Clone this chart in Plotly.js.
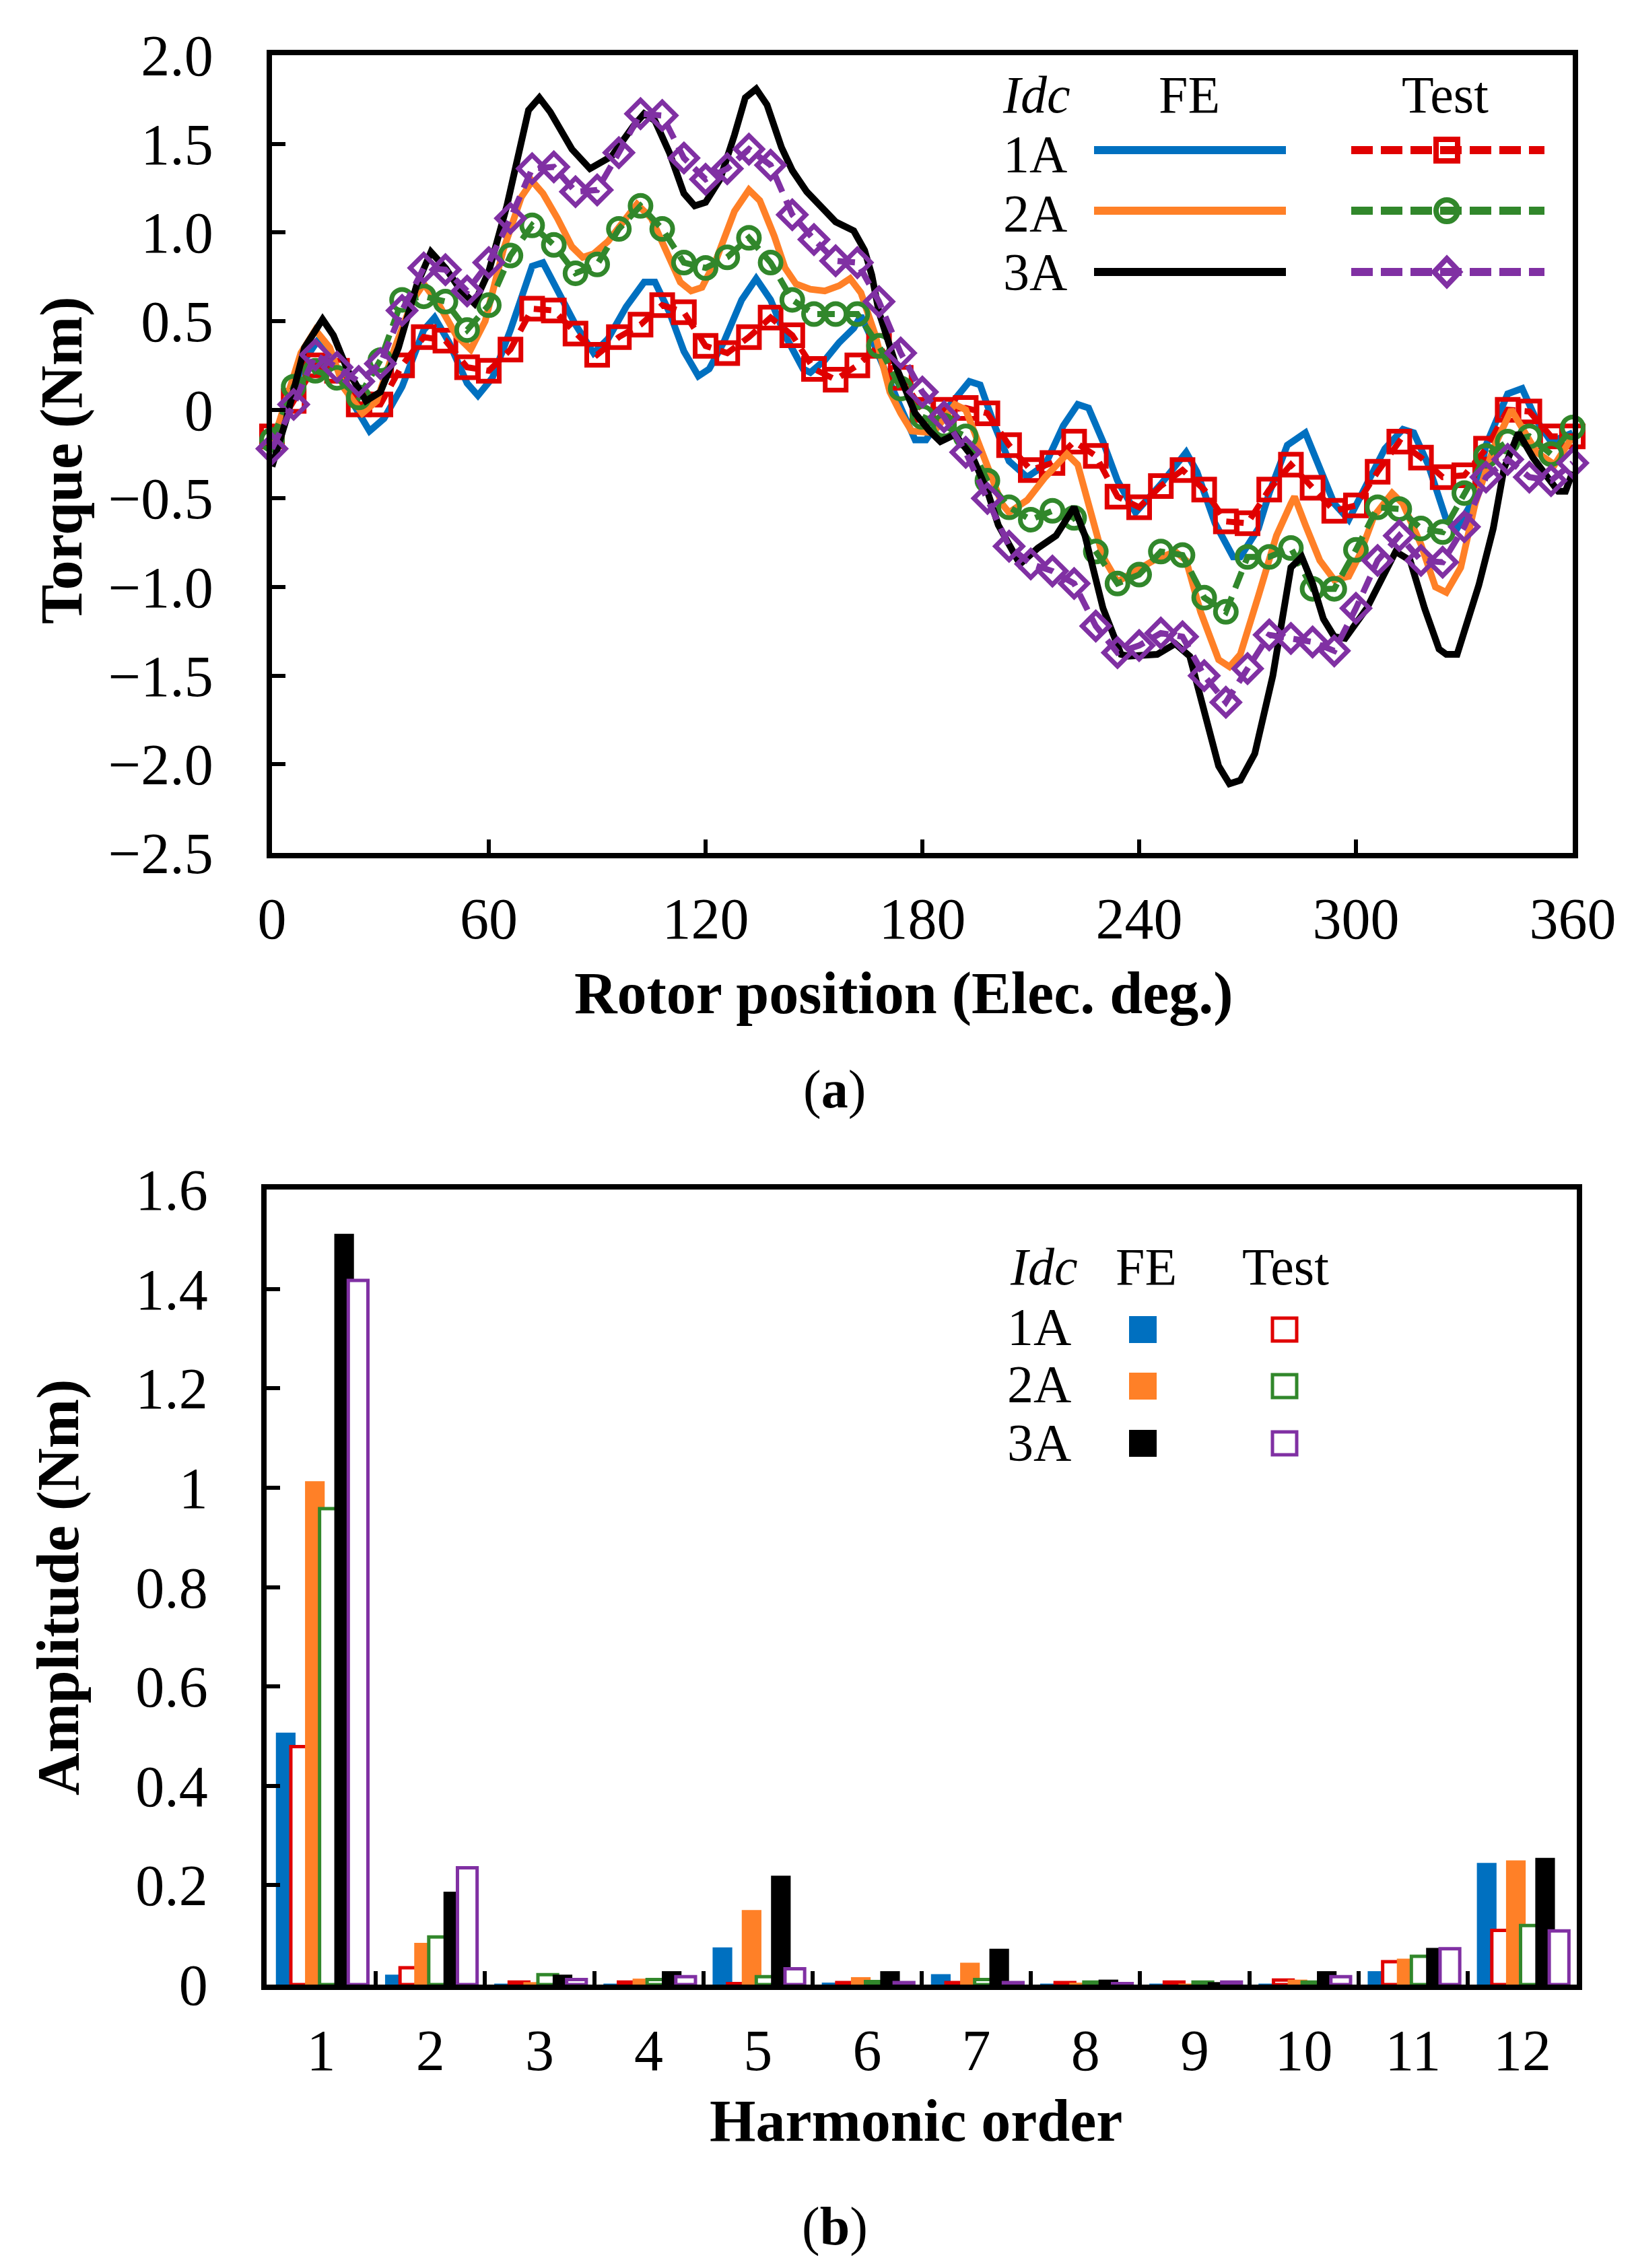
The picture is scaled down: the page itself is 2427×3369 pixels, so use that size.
<!DOCTYPE html>
<html>
<head>
<meta charset="utf-8">
<script src="https://cdn.plot.ly/plotly-3.0.1.min.js"></script>
<style>
  html, body { margin: 0; padding: 0; background: #fff; }
  #chart { width: 2427px; height: 3369px; }
</style>
</head>
<body>
<div id="chart"></div>
<script>
'use strict';

// ---- (a) torque waveforms ----
// FE curves at their corners
const fe1Deg = [0,4,9,13,17,22,27,31,36,42,45,49,54,57,61,66,72,75,79,84,89,93,98,103,106,110,114,118,121,125,130,134,138,142,147,149,153,157,161,163,166,170,173,178,181,187,193,196,200,204,209,214,219,223,226,230,234,239,246,253,256,261,266,268,273,276,281,286,290,294,298,303,308,313,316,320,325,328,333,336,342,346,350,354,357,360];
const fe1Torque = [-0.22,0.0,0.28,0.40,0.28,0.05,-0.12,-0.05,0.13,0.45,0.52,0.38,0.15,0.08,0.18,0.45,0.81,0.83,0.68,0.48,0.32,0.40,0.58,0.72,0.72,0.55,0.33,0.19,0.23,0.38,0.62,0.74,0.62,0.42,0.23,0.21,0.28,0.38,0.46,0.53,0.40,0.20,0.06,-0.17,-0.17,0.01,0.16,0.14,-0.09,-0.29,-0.38,-0.31,-0.09,0.03,0.01,-0.18,-0.40,-0.58,-0.42,-0.24,-0.35,-0.64,-0.83,-0.83,-0.67,-0.47,-0.20,-0.13,-0.33,-0.53,-0.62,-0.42,-0.22,-0.11,-0.13,-0.31,-0.62,-0.67,-0.49,-0.20,0.09,0.12,-0.06,-0.18,-0.15,-0.13];

const fe2Deg = [0,4,8,12,16,20,25,29,34,39,42,46,51,55,59,64,69,72,75,79,83,86,89,93,97,101,105,109,113,116,119,123,128,132,135,139,142,145,149,153,157,160,163,167,171,174,177,183,189,192,197,202,204,209,214,220,223,227,230,234,238,244,250,253,257,262,265,268,273,278,282,283,286,290,294,298,301,305,310,313,318,322,325,329,333,338,343,346,350,355,360];
const fe2Torque = [-0.20,0.05,0.32,0.45,0.35,0.12,-0.02,0.05,0.35,0.62,0.71,0.60,0.42,0.34,0.50,0.90,1.20,1.29,1.22,1.08,0.92,0.86,0.88,0.95,1.06,1.16,1.08,0.90,0.72,0.67,0.69,0.85,1.12,1.24,1.18,0.98,0.80,0.71,0.68,0.67,0.70,0.74,0.66,0.42,0.10,-0.02,-0.12,-0.13,0.03,0.00,-0.27,-0.53,-0.58,-0.51,-0.38,-0.25,-0.31,-0.60,-0.83,-0.97,-0.92,-0.85,-0.80,-0.85,-1.14,-1.41,-1.45,-1.38,-1.05,-0.71,-0.53,-0.49,-0.65,-0.85,-0.96,-0.94,-0.82,-0.60,-0.47,-0.53,-0.76,-1.00,-1.03,-0.89,-0.53,-0.22,0.00,-0.11,-0.24,-0.31,-0.15];

const fe3Deg = [0,4,9,14,17,21,26,30,35,40,44,48,52,56,60,65,71,74,77,80,83,88,94,100,103,106,110,114,117,120,124,128,131,134,137,141,144,148,153,156,161,164,166,168,173,178,182,185,189,194,198,201,207,212,217,222,225,230,235,237,245,250,254,257,262,265,268,272,277,282,285,288,291,294,297,303,308,311,315,319,323,325,328,330,334,338,341,345,349,353,356,358,360];
const fe3Torque = [-0.32,-0.05,0.35,0.51,0.42,0.22,0.05,0.10,0.35,0.70,0.89,0.80,0.68,0.60,0.78,1.15,1.69,1.76,1.68,1.58,1.47,1.36,1.43,1.60,1.67,1.63,1.45,1.22,1.15,1.17,1.30,1.55,1.76,1.81,1.72,1.48,1.35,1.23,1.12,1.06,1.01,0.90,0.76,0.55,0.23,-0.02,-0.12,-0.18,-0.14,-0.27,-0.46,-0.65,-0.87,-0.78,-0.71,-0.55,-0.71,-1.12,-1.38,-1.39,-1.38,-1.32,-1.39,-1.61,-2.01,-2.11,-2.09,-1.94,-1.50,-0.89,-0.83,-0.98,-1.18,-1.28,-1.29,-1.12,-0.92,-0.80,-0.85,-1.12,-1.35,-1.38,-1.38,-1.25,-0.99,-0.67,-0.33,-0.13,-0.27,-0.38,-0.46,-0.46,-0.35];

// test points, one every 6 degrees
const testDeg = [0,6,12,18,24,30,36,42,48,54,60,66,72,78,84,90,96,102,108,114,120,126,132,138,144,150,156,162,168,174,180,186,192,198,204,210,216,222,228,234,240,246,252,258,264,270,276,282,288,294,300,306,312,318,324,330,336,342,348,354,360];
const test1Torque = [-0.15,0.05,0.25,0.22,0.03,0.03,0.25,0.41,0.39,0.24,0.22,0.34,0.57,0.56,0.43,0.31,0.41,0.48,0.59,0.55,0.36,0.32,0.41,0.52,0.42,0.23,0.17,0.25,0.36,0.18,0.00,0.00,0.01,-0.02,-0.20,-0.34,-0.30,-0.18,-0.26,-0.49,-0.55,-0.43,-0.34,-0.45,-0.63,-0.64,-0.45,-0.31,-0.44,-0.57,-0.54,-0.35,-0.18,-0.27,-0.38,-0.37,-0.22,0.00,-0.01,-0.15,-0.15];
const test2Torque = [-0.17,0.13,0.22,0.18,0.07,0.28,0.62,0.64,0.61,0.45,0.59,0.87,1.04,0.93,0.77,0.82,1.02,1.15,1.02,0.83,0.80,0.86,0.97,0.83,0.62,0.54,0.54,0.54,0.36,0.12,-0.04,-0.09,-0.15,-0.40,-0.55,-0.62,-0.57,-0.61,-0.80,-0.98,-0.93,-0.80,-0.82,-1.06,-1.14,-0.83,-0.83,-0.78,-1.01,-1.01,-0.79,-0.55,-0.56,-0.67,-0.69,-0.47,-0.26,-0.18,-0.15,-0.25,-0.10];
const test3Torque = [-0.22,0.03,0.31,0.24,0.16,0.26,0.56,0.80,0.79,0.67,0.83,1.08,1.36,1.37,1.23,1.24,1.45,1.67,1.66,1.42,1.30,1.36,1.47,1.38,1.10,0.96,0.84,0.83,0.61,0.32,0.10,-0.04,-0.24,-0.50,-0.77,-0.87,-0.91,-0.98,-1.22,-1.37,-1.33,-1.26,-1.28,-1.50,-1.65,-1.46,-1.27,-1.29,-1.31,-1.36,-1.12,-0.85,-0.71,-0.85,-0.86,-0.66,-0.38,-0.28,-0.38,-0.40,-0.30];

const torqueTicks = [-2.5,-2.0,-1.5,-1.0,-0.5,0,0.5,1.0,1.5,2.0];
const torqueTickText = ['\u22122.5','\u22122.0','\u22121.5','\u22121.0','\u22120.5','0','0.5','1.0','1.5','2.0'];

// ---- (b) harmonic amplitudes ----
const harmonics = ['1','2','3','4','5','6','7','8','9','10','11','12'];
const fe1Amp   = [0.507,0.020,0.002,0.002,0.075,0.004,0.021,0.002,0.002,0.002,0.027,0.245];
const test1Amp = [0.479,0.034,0.005,0.005,0.002,0.004,0.004,0.004,0.005,0.009,0.046,0.109];
const fe2Amp   = [1.013,0.084,0.005,0.012,0.150,0.015,0.044,0.004,0.002,0.010,0.052,0.250];
const test2Amp = [0.958,0.096,0.020,0.010,0.016,0.006,0.010,0.005,0.005,0.005,0.057,0.119];
const fe3Amp   = [1.511,0.187,0.020,0.027,0.219,0.027,0.072,0.010,0.005,0.027,0.074,0.255];
const test3Amp = [1.417,0.235,0.010,0.016,0.032,0.004,0.004,0.002,0.005,0.016,0.072,0.108];

const BLUE = '#0070C0', ORANGE = '#FF8027', BLACK = '#000000';
const RED = '#E00000', GREEN = '#31872B', PURPLE = '#8030A3';
const FONT = 'Liberation Serif, Times New Roman, serif';

const W = 2427, H = 3369;
function px(x) { return x / W; }
function py(y) { return 1 - y / H; }

function feLine(x, y, color, name) {
    return { x: x, y: y, type: 'scatter', mode: 'lines', name: name,
             line: { color: color, width: 10 }, xaxis: 'x', yaxis: 'y', cliponaxis: false };
}
function testLine(y, color, symbol, name) {
    return { x: testDeg, y: y, type: 'scatter', mode: 'lines+markers', name: name,
             line: { color: color, width: 9, dash: '26px,14px' },
             marker: { symbol: symbol, size: 31, color: color, line: { color: color, width: 7 } },
             xaxis: 'x', yaxis: 'y', cliponaxis: false };
}
function ampBar(y, color, offset, hollow, name) {
    return { x: harmonics, y: y, type: 'bar', name: name, offset: offset, width: 0.18,
             marker: hollow ? { color: '#ffffff', line: { color: color, width: 5 } }
                            : { color: color, line: { width: 0 } },
             xaxis: 'x2', yaxis: 'y2' };
}

const data = [
    feLine(fe1Deg, fe1Torque, BLUE, 'FE 1A'),
    testLine(test1Torque, RED, 'square-open', 'Test 1A'),
    feLine(fe2Deg, fe2Torque, ORANGE, 'FE 2A'),
    testLine(test2Torque, GREEN, 'circle-open', 'Test 2A'),
    feLine(fe3Deg, fe3Torque, BLACK, 'FE 3A'),
    testLine(test3Torque, PURPLE, 'diamond-open', 'Test 3A'),
    ampBar(fe1Amp, BLUE, -0.415, false, 'FE 1A'),
    ampBar(test1Amp, RED, -0.278, true, 'Test 1A'),
    ampBar(fe2Amp, ORANGE, -0.148, false, 'FE 2A'),
    ampBar(test2Amp, GREEN, -0.015, true, 'Test 2A'),
    ampBar(fe3Amp, BLACK, 0.12, false, 'FE 3A'),
    ampBar(test3Amp, PURPLE, 0.248, true, 'Test 3A')
];

const axisCommon = {
    showline: true, mirror: true, linecolor: '#000', linewidth: 8,
    ticks: 'inside', ticklen: 20, tickwidth: 6, tickcolor: '#000',
    showgrid: false, zeroline: false,
    tickfont: { family: FONT, size: 86, color: '#000' }
};

function txt(text, x, y, size, extra) {
    return Object.assign({ text: text, xref: 'paper', yref: 'paper', x: px(x), y: py(y),
        xanchor: 'center', yanchor: 'middle', showarrow: false,
        font: { family: FONT, size: size, color: '#000' } }, extra || {});
}

const annotations = [
    txt('<b>Torque (Nm)</b>', 92, 684, 88, { textangle: -90 }),
    txt('<b>Rotor position (Elec. deg.)</b>', 1342, 1475, 88),
    txt('(<b>a</b>)', 1239, 1618, 80),
    txt('<b>Amplitude (Nm)</b>', 86, 2358, 88, { textangle: -90 }),
    txt('<b>Harmonic order</b>', 1360, 3150, 88),
    txt('(<b>b</b>)', 1240, 3307, 80),
    // legend (a)
    txt('<i>Idc</i>', 1539, 141, 78), txt('FE', 1766, 141, 78), txt('Test', 2146, 141, 78),
    txt('1A', 1537, 229, 78), txt('2A', 1537, 317, 78), txt('3A', 1537, 404, 78),
    // legend (b)
    txt('<i>Idc</i>', 1550, 1882, 78), txt('FE', 1702, 1882, 78), txt('Test', 1909, 1882, 78),
    txt('1A', 1543, 1970, 78), txt('2A', 1543, 2055, 78), txt('3A', 1543, 2142, 78)
];

// legend glyphs
const shapes = [];
const legRowsA = [223, 313, 404];
[BLUE, ORANGE, BLACK].forEach(function (c, i) {
    shapes.push({ type: 'line', xref: 'paper', yref: 'paper', x0: px(1625), x1: px(1910),
                  y0: py(legRowsA[i]), y1: py(legRowsA[i]), line: { color: c, width: 12 } });
});
[RED, GREEN, PURPLE].forEach(function (c, i) {
    shapes.push({ type: 'line', xref: 'paper', yref: 'paper', x0: px(2007), x1: px(2294),
                  y0: py(legRowsA[i]), y1: py(legRowsA[i]), line: { color: c, width: 12, dash: '32px,12px' } });
});
const cx = 2149;
shapes.push({ type: 'rect', xref: 'paper', yref: 'paper', x0: px(cx - 16), x1: px(cx + 16),
              y0: py(legRowsA[0] - 16), y1: py(legRowsA[0] + 16), line: { color: RED, width: 8 } });
shapes.push({ type: 'circle', xref: 'paper', yref: 'paper', x0: px(cx - 16), x1: px(cx + 16),
              y0: py(legRowsA[1] - 16), y1: py(legRowsA[1] + 16), line: { color: GREEN, width: 8 } });
const dy = legRowsA[2];
shapes.push({ type: 'path', xref: 'paper', yref: 'paper',
              path: 'M' + px(cx) + ',' + py(dy - 20) + ' L' + px(cx + 19) + ',' + py(dy) +
                    ' L' + px(cx) + ',' + py(dy + 20) + ' L' + px(cx - 19) + ',' + py(dy) + ' Z',
              line: { color: PURPLE, width: 8 } });

const legRowsB = [1975, 2059, 2144];
[BLUE, ORANGE, BLACK].forEach(function (c, i) {
    shapes.push({ type: 'rect', xref: 'paper', yref: 'paper', x0: px(1677), x1: px(1718),
                  y0: py(legRowsB[i] - 20), y1: py(legRowsB[i] + 20), fillcolor: c, line: { width: 0 } });
});
[RED, GREEN, PURPLE].forEach(function (c, i) {
    shapes.push({ type: 'rect', xref: 'paper', yref: 'paper', x0: px(1890), x1: px(1926),
                  y0: py(legRowsB[i] - 17), y1: py(legRowsB[i] + 17), line: { color: c, width: 5 } });
});

const layout = {
    width: W, height: H,
    margin: { l: 0, r: 0, t: 0, b: 0 },
    paper_bgcolor: '#fff', plot_bgcolor: '#fff',
    showlegend: false,
    barmode: 'overlay',
    xaxis: Object.assign({}, axisCommon, {
        domain: [px(404), px(2336)], range: [0, 360], dtick: 60, tick0: 0,
        ticklabelstandoff: 16, anchor: 'y'
    }),
    yaxis: Object.assign({}, axisCommon, {
        domain: [py(1267), py(82)], range: [-2.5, 2.0],
        tickmode: 'array', tickvals: torqueTicks, ticktext: torqueTickText,
        ticklabelstandoff: 62, anchor: 'x'
    }),
    xaxis2: Object.assign({}, axisCommon, {
        domain: [px(396), px(2342)], type: 'category', tickson: 'boundaries',
        ticklabelstandoff: 16, anchor: 'y2'
    }),
    yaxis2: Object.assign({}, axisCommon, {
        domain: [py(2948), py(1767)], range: [0, 1.6], dtick: 0.2, tick0: 0,
        ticklabelstandoff: 62, anchor: 'x2'
    }),
    annotations: annotations,
    shapes: shapes
};

Plotly.newPlot('chart', data, layout, { staticPlot: true });
</script>
</body>
</html>
